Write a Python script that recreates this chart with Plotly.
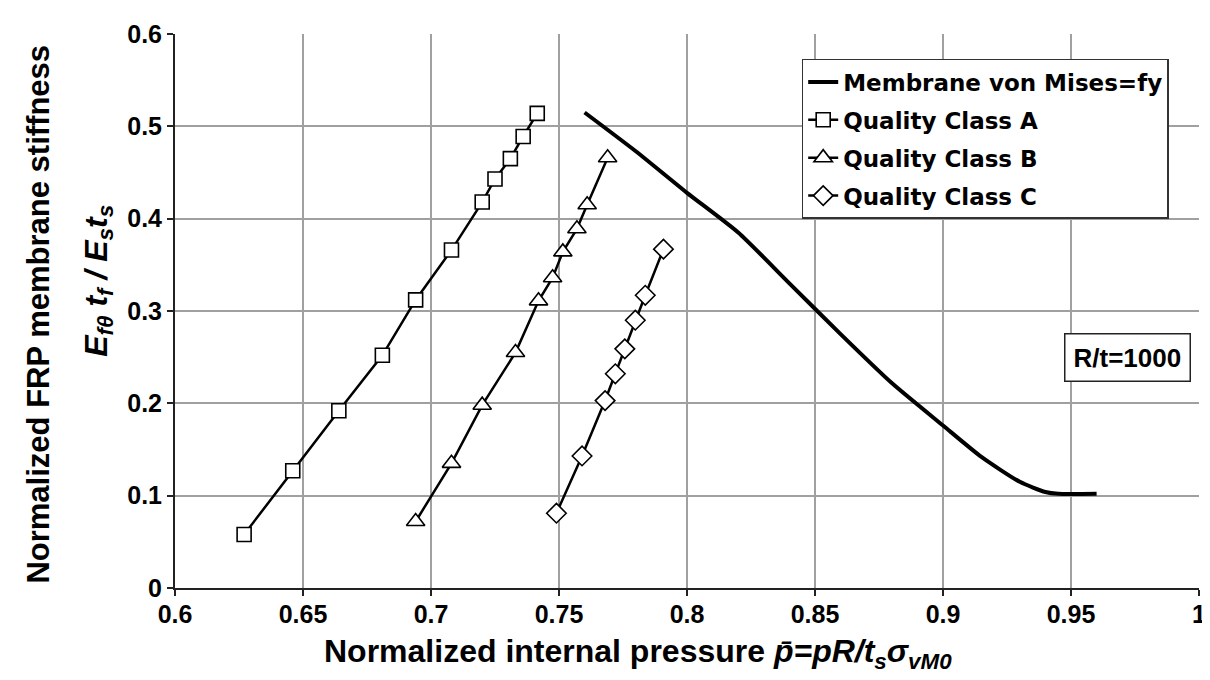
import plotly.graph_objects as go

# ---- data ----
class_a_x = [0.627, 0.646, 0.664, 0.681, 0.694, 0.708, 0.720, 0.725, 0.731, 0.736, 0.7415]
class_a_y = [0.058, 0.127, 0.192, 0.252, 0.312, 0.366, 0.418, 0.443, 0.465, 0.489, 0.514]

class_b_x = [0.694, 0.708, 0.720, 0.733, 0.742, 0.7475, 0.7515, 0.757, 0.761, 0.769]
class_b_y = [0.072, 0.135, 0.198, 0.255, 0.311, 0.336, 0.364, 0.389, 0.415, 0.466]

class_c_x = [0.749, 0.759, 0.768, 0.772, 0.7757, 0.7798, 0.7837, 0.7908]
class_c_y = [0.081, 0.143, 0.203, 0.232, 0.259, 0.290, 0.317, 0.367]

mises_x = [0.760, 0.780, 0.800, 0.820, 0.840, 0.860, 0.880, 0.900, 0.915, 0.930, 0.940, 0.945, 0.960]
mises_y = [0.515, 0.473, 0.428, 0.385, 0.330, 0.275, 0.222, 0.176, 0.142, 0.115, 0.104, 0.102, 0.102]

x_ticks = [0.6, 0.65, 0.7, 0.75, 0.8, 0.85, 0.9, 0.95, 1.0]
x_tick_labels = ["0.6", "0.65", "0.7", "0.75", "0.8", "0.85", "0.9", "0.95", "1"]
y_ticks = [0, 0.1, 0.2, 0.3, 0.4, 0.5, 0.6]
y_tick_labels = ["0", "0.1", "0.2", "0.3", "0.4", "0.5", "0.6"]

FONT = "Liberation Sans, Arial, sans-serif"
LEG_FONT = "DejaVu Sans, Verdana, sans-serif"

fig = go.Figure()

fig.add_trace(go.Scatter(
    x=mises_x, y=mises_y, mode="lines", name="Membrane von Mises=fy",
    legendgroup="m",
    line=dict(color="black", width=4, shape="spline", smoothing=0.6),
))

mk = dict(color="white", line=dict(color="black", width=1.6))
fig.add_trace(go.Scatter(
    x=class_a_x, y=class_a_y, mode="lines+markers", name="Quality Class A",
    legendgroup="a",
    line=dict(color="black", width=2.5),
    marker=dict(symbol="square", size=14, **mk),
))
fig.add_trace(go.Scatter(
    x=class_b_x, y=class_b_y, mode="lines+markers", name="Quality Class B",
    legendgroup="b",
    line=dict(color="black", width=2.5),
    marker=dict(symbol="triangle-up", size=16, **mk),
))
fig.add_trace(go.Scatter(
    x=class_c_x, y=class_c_y, mode="lines+markers", name="Quality Class C",
    legendgroup="c",
    line=dict(color="black", width=2.5),
    marker=dict(symbol="diamond", size=15, **mk),
))

# boxed note
fig.add_annotation(
    x=0.972, y=0.25, xref="x", yref="y", text="<b>R/t=1000</b>", showarrow=False,
    font=dict(family=FONT, size=26, color="black"),
    bordercolor="#222", borderwidth=1.5, borderpad=8, bgcolor="white",
)

# axis titles as positioned annotations
fig.add_annotation(
    x=0.452, y=-0.118, xref="paper", yref="paper", xanchor="center", yanchor="middle",
    text="<b>Normalized internal pressure <i>p̄=pR/t<sub>s</sub>σ<sub>vM0</sub></i></b>",
    showarrow=False, font=dict(family=FONT, size=32, color="black"),
)
fig.add_annotation(
    x=-0.133, y=0.495, xref="paper", yref="paper", xanchor="center", yanchor="middle",
    text="<b>Normalized FRP membrane stiffness</b>", textangle=-90,
    showarrow=False, font=dict(family=FONT, size=31, color="black"),
)
fig.add_annotation(
    x=-0.075, y=0.555, xref="paper", yref="paper", xanchor="center", yanchor="middle",
    text="<b><i>E<sub>fθ</sub>&nbsp;t<sub>f</sub>&nbsp;/&nbsp;E<sub>s</sub>t<sub>s</sub></i></b>",
    textangle=-90,
    showarrow=False, font=dict(family=FONT, size=32, color="black"),
)

fig.update_layout(
    width=1210, height=680,
    margin=dict(l=167, r=13, t=19, b=100),
    paper_bgcolor="white", plot_bgcolor="white",
    font=dict(family=FONT, color="black"),
    showlegend=True,
    legend=dict(
        x=0.612, y=0.955, xanchor="left", yanchor="top",
        bgcolor="white", bordercolor="#333", borderwidth=1.5,
        font=dict(family=LEG_FONT, size=23, color="black", weight="bold"),
        itemwidth=30, tracegroupgap=5,
    ),
    xaxis=dict(
        range=[0.6, 1.0], tickvals=x_ticks, ticktext=x_tick_labels,
        showgrid=True, gridcolor="#a0a0a0", gridwidth=1.5,
        showline=True, linecolor="#222", linewidth=2,
        ticks="outside", ticklen=6, tickcolor="#222", tickwidth=1.5,
        tickfont=dict(family=FONT, size=25, color="black", weight="bold"),
        ticklabelstandoff=-3,
        zeroline=False,
    ),
    yaxis=dict(
        range=[0, 0.6], tickvals=y_ticks, ticktext=y_tick_labels,
        showgrid=True, gridcolor="#a0a0a0", gridwidth=1.5,
        showline=True, linecolor="#222", linewidth=2,
        ticks="outside", ticklen=6, tickcolor="#222", tickwidth=1.5,
        tickfont=dict(family=FONT, size=25, color="black", weight="bold"),
        zeroline=False,
    ),
)

fig.write_html("out.html")
